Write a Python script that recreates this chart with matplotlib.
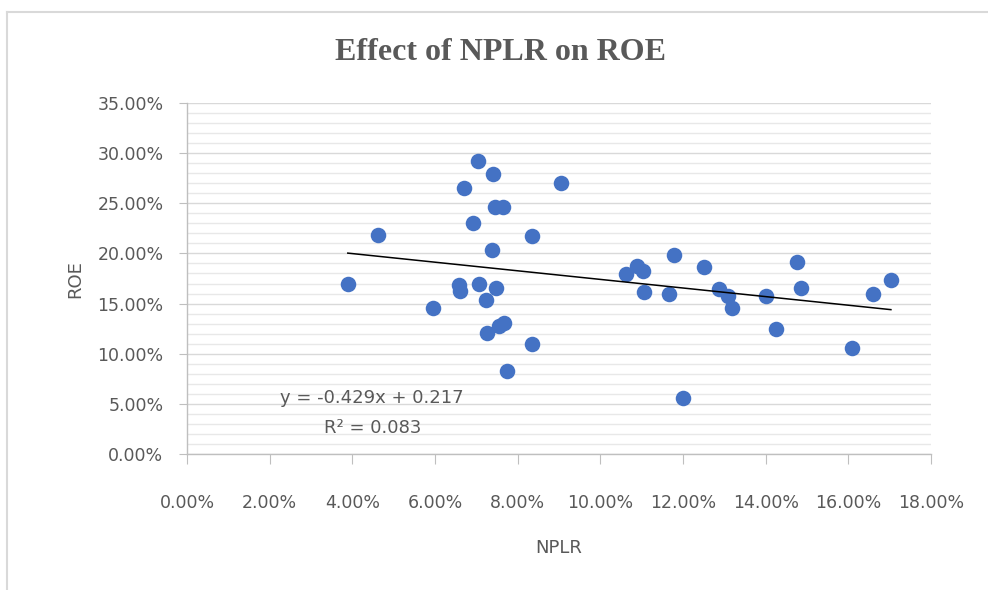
import matplotlib
matplotlib.use('Agg')
import matplotlib.pyplot as plt
from matplotlib.ticker import MultipleLocator, FuncFormatter
from matplotlib.lines import Line2D
import numpy as np

# NPLR (x) and ROE (y), in percent
nplr = [3.89, 4.63, 5.96, 6.58, 6.60, 6.69, 6.93, 7.05, 7.07, 7.23,
        7.25, 7.37, 7.41, 7.45, 7.48, 7.55, 7.64, 7.68, 7.75, 8.34,
        8.34, 9.04, 10.61, 10.88, 11.04, 11.06, 11.65, 11.79, 11.99, 12.51,
        12.87, 13.08, 13.19, 14.00, 14.25, 14.77, 14.85, 16.08, 16.59, 17.03]
roe = [17.0, 21.8, 14.6, 16.9, 16.3, 26.5, 23.0, 29.2, 17.0, 15.4,
       12.1, 20.3, 27.9, 24.6, 16.6, 12.8, 24.6, 13.1, 8.3, 21.7,
       11.0, 27.0, 17.9, 18.7, 18.2, 16.2, 16.0, 19.8, 5.6, 18.6,
       16.5, 15.8, 14.6, 15.8, 12.5, 19.1, 16.6, 10.6, 16.0, 17.4]

# linear trendline shown on the chart
trend_slope = -0.429
trend_intercept = 0.217
trend_label = "y = -0.429x + 0.217"
r2_label = "R² = 0.083"

title = "Effect of NPLR on ROE"
x_label = "NPLR"
y_label = "ROE"

text_color = "#595959"

fig = plt.figure(figsize=(9.88, 5.9), dpi=100)
ax = fig.add_axes([187 / 988, 1 - 454 / 590, 744 / 988, 351 / 590])

ax.scatter(nplr, roe, s=125, color="#4472C4", zorder=3, linewidths=0)

# trendline over the data range
x_line = np.array([min(nplr), max(nplr)])
y_line = (trend_slope * x_line / 100 + trend_intercept) * 100
ax.plot(x_line, y_line, color="black", lw=1.1, zorder=4)

ax.set_xlim(0, 18)
ax.set_ylim(0, 35)
ax.xaxis.set_major_locator(MultipleLocator(2))
ax.yaxis.set_major_locator(MultipleLocator(5))
ax.yaxis.set_minor_locator(MultipleLocator(1))
pct = FuncFormatter(lambda v, p: f"{v:.2f}%")
ax.xaxis.set_major_formatter(pct)
ax.yaxis.set_major_formatter(pct)

ax.grid(axis="y", which="major", color="#d9d9d9", lw=1.0, zorder=0)
ax.grid(axis="y", which="minor", color="#e8e8e8", lw=1.0, zorder=0)
ax.set_axisbelow(True)

for side in ["top", "right"]:
    ax.spines[side].set_visible(False)
for side in ["left", "bottom"]:
    ax.spines[side].set_color("#bfbfbf")
    ax.spines[side].set_linewidth(1.0)

ax.tick_params(axis="x", which="major", length=7, color="#bfbfbf",
               labelcolor=text_color, labelsize=12.5, pad=22)
ax.tick_params(axis="y", which="major", length=6, color="#bfbfbf",
               labelcolor=text_color, labelsize=12.5, pad=11)
ax.tick_params(axis="y", which="minor", length=0)

ax.set_xlabel(x_label, color=text_color, fontsize=13, labelpad=19)
ax.set_ylabel(y_label, color=text_color, fontsize=13)
ax.yaxis.set_label_coords((84 - 187) / 744, (454 - 279) / 351)

fig.text(500 / 988, 1 - 53 / 590, title, ha="center", va="center",
         fontsize=23, fontweight="bold", family="Liberation Serif", color=text_color)

ax.text((372 - 187) / 744, (454 - 398) / 351, trend_label, transform=ax.transAxes,
        ha="center", va="center", fontsize=13, color=text_color)
ax.text((373 - 187) / 744, (454 - 428) / 351, r2_label, transform=ax.transAxes,
        ha="center", va="center", fontsize=13, color=text_color)

# chart area border (top and left edges visible)
fig.add_artist(Line2D([7 / 988, 7 / 988], [0, 1 - 12 / 590], transform=fig.transFigure,
                      color="#d9d9d9", lw=1.5))
fig.add_artist(Line2D([7 / 988, 1], [1 - 12 / 590, 1 - 12 / 590], transform=fig.transFigure,
                      color="#d9d9d9", lw=1.5))

fig.savefig("out.png", dpi=100)
